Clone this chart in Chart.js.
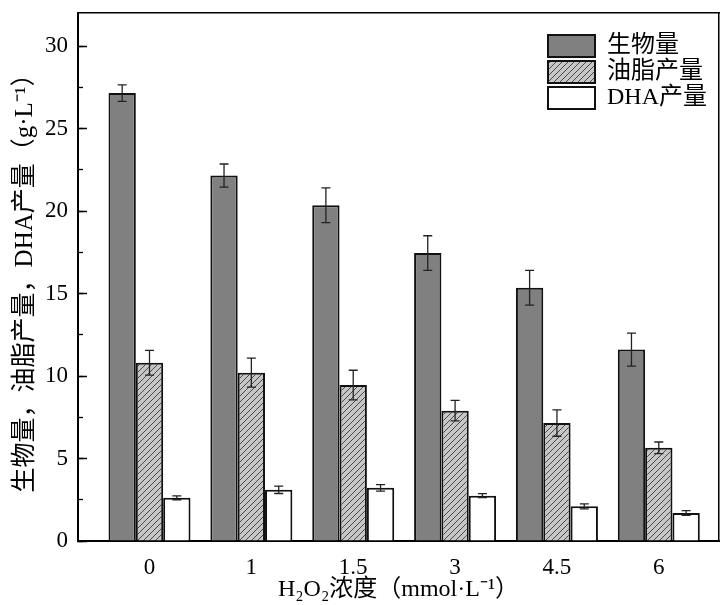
<!DOCTYPE html>
<html><head><meta charset="utf-8">
<script src="https://cdn.jsdelivr.net/npm/chart.js@4"></script>
<style>html,body{margin:0;padding:0;background:#fff;} #wrap{width:723px;height:605px;}</style>
</head><body><div id="wrap"><canvas id="c" width="723" height="605"></canvas></div>
<script>
// ---- data ----
const categories = ['0', '1', '1.5', '3', '4.5', '6'];
const seriesNames = ['生物量', '油脂产量', 'DHA产量'];
const biomass    = [27.15, 22.15, 20.35, 17.45, 15.35, 11.6];
const biomassErr = [0.5, 0.7, 1.05, 1.05, 1.05, 1.0];
const lipid      = [10.8, 10.2, 9.45, 7.9, 7.15, 5.65];
const lipidErr   = [0.75, 0.88, 0.9, 0.62, 0.8, 0.35];
const dha        = [2.62, 3.1, 3.22, 2.75, 2.1, 1.7];
const dhaErr     = [0.12, 0.22, 0.2, 0.12, 0.15, 0.14];
const yTicks     = [0, 5, 10, 15, 20, 25, 30];
const xTitle = 'H₂O₂浓度（mmol·L⁻¹）';
const yTitle = '生物量，油脂产量，DHA产量（g·L⁻¹）';

const FONT = "'Liberation Serif', 'Noto Sans CJK SC', serif";
Chart.defaults.font.family = FONT;
Chart.defaults.color = '#000';

function hatchPattern() {
  const s = 6;
  const c = document.createElement('canvas');
  c.width = s; c.height = s;
  const g = c.getContext('2d');
  g.fillStyle = '#c6c6c6';
  g.fillRect(0, 0, s, s);
  g.strokeStyle = '#4a4a4a';
  g.lineWidth = 1;
  g.beginPath();
  g.moveTo(0, s); g.lineTo(s, 0);
  g.moveTo(-1, 1); g.lineTo(1, -1);
  g.moveTo(s - 1, s + 1); g.lineTo(s + 1, s - 1);
  g.stroke();
  return document.getElementById('c').getContext('2d').createPattern(c, 'repeat');
}

const toPoints = arr => arr.map((v, i) => ({ x: i, y: v }));

const errorBars = {
  id: 'errorBars',
  afterDatasetsDraw(chart) {
    const ctx = chart.ctx, ys = chart.scales.y;
    chart.data.datasets.forEach((ds, di) => {
      const meta = chart.getDatasetMeta(di);
      meta.data.forEach((bar, i) => {
        const v = ds.data[i].y, e = ds.err[i];
        const top = ys.getPixelForValue(v + e), bot = ys.getPixelForValue(v - e);
        ctx.save();
        ctx.strokeStyle = '#222';
        ctx.lineWidth = 1.3;
        ctx.beginPath();
        ctx.moveTo(bar.x, top); ctx.lineTo(bar.x, bot);
        ctx.moveTo(bar.x - 4.5, top); ctx.lineTo(bar.x + 4.5, top);
        ctx.moveTo(bar.x - 4.5, bot); ctx.lineTo(bar.x + 4.5, bot);
        ctx.stroke();
        ctx.restore();
      });
    });
  }
};

const legendPlace = {
  id: 'legendPlace',
  afterLayout(chart) {
    const l = chart.legend;
    if (!l) return;
    const a = chart.chartArea;
    const p = l.options.labels.padding;
    const w = l.width, h = l.height;
    l.left = a.right - 171 - p;
    l.top = a.top + 21 - p;
    l.right = l.left + w;
    l.bottom = l.top + h;
  }
};

const noPad = s => { s.paddingTop = 0; s.paddingBottom = 0; s.paddingLeft = 0; s.paddingRight = 0; };

const borderOnly = (pos, axis, fitKey) => ({
  type: 'linear', axis: axis, position: pos, min: 0, max: 1,
  ticks: { display: false },
  grid: { display: true, drawOnChartArea: false, drawTicks: false },
  border: { display: true, color: '#000', width: 1.5 },
  afterFit: s => { s[fitKey] = 0; noPad(s); }
});

new Chart(document.getElementById('c'), {
  type: 'bar',
  data: {
    datasets: [
      { label: seriesNames[0], data: toPoints(biomass), err: biomassErr,
        backgroundColor: '#808080', borderColor: '#111', borderWidth: 2 },
      { label: seriesNames[1], data: toPoints(lipid), err: lipidErr,
        backgroundColor: hatchPattern(), borderColor: '#111', borderWidth: 2 },
      { label: seriesNames[2], data: toPoints(dha), err: dhaErr,
        backgroundColor: '#ffffff', borderColor: '#111', borderWidth: 2 }
    ]
  },
  options: {
    responsive: false,
    animation: false,
    devicePixelRatio: 1,
    layout: { padding: { left: 0, right: 4, top: 13, bottom: 0 } },
    datasets: { bar: { categoryPercentage: 0.805, barPercentage: 1.0 } },
    plugins: {
      tooltip: { enabled: false },
      legend: {
        position: 'chartArea', align: 'start',
        labels: { boxWidth: 47, boxHeight: 22, padding: 2, font: { size: 24 }, color: '#000' }
      }
    },
    scales: {
      x: {
        type: 'linear', position: 'bottom', min: -0.702, max: 5.591, offset: false,
        afterBuildTicks: s => { s.ticks = categories.map((_, i) => ({ value: i })); },
        afterFit: s => { s.height = 64; noPad(s); },
        ticks: { callback: v => (categories[v] !== undefined ? categories[v] : ''),
                 font: { size: 23 }, padding: 13, autoSkip: false, maxRotation: 0, color: '#000' },
        grid: { display: true, drawOnChartArea: false, drawTicks: false, offset: false },
        border: { display: true, color: '#000', width: 2 },
        title: { display: true, text: xTitle, font: { size: 24, lineHeight: 1 },
                 padding: { top: 0, bottom: 3 }, color: '#000' }
      },
      y: {
        type: 'linear', position: 'left', weight: 1, min: 0, max: 32,
        afterBuildTicks: s => { s.ticks = yTicks.map(v => ({ value: v })); },
        afterFit: s => { s.width = 78; noPad(s); },
        ticks: { font: { size: 23 }, padding: 19, color: '#000' },
        grid: { display: true, drawOnChartArea: false, drawTicks: true, tickLength: -9,
                tickWidth: 1.5, tickColor: '#000' },
        border: { display: true, color: '#000', width: 2 },
        title: { display: true, text: yTitle, font: { size: 25, lineHeight: 1 },
                 padding: { top: 13, bottom: 0 }, color: '#000' }
      },
      yMinor: {
        type: 'linear', axis: 'y', position: 'left', weight: 0, min: 0, max: 32,
        ticks: { display: false, stepSize: 2.5, includeBounds: false },
        grid: { display: true, drawOnChartArea: false, drawTicks: true, tickLength: -5,
                tickWidth: 1.3, tickColor: '#000' },
        border: { display: false },
        afterFit: s => { s.width = 0; noPad(s); }
      },
      y2: borderOnly('right', 'y', 'width'),
      x2: borderOnly('top', 'x', 'height')
    }
  },
  plugins: [errorBars, legendPlace]
});
</script>
</body></html>
